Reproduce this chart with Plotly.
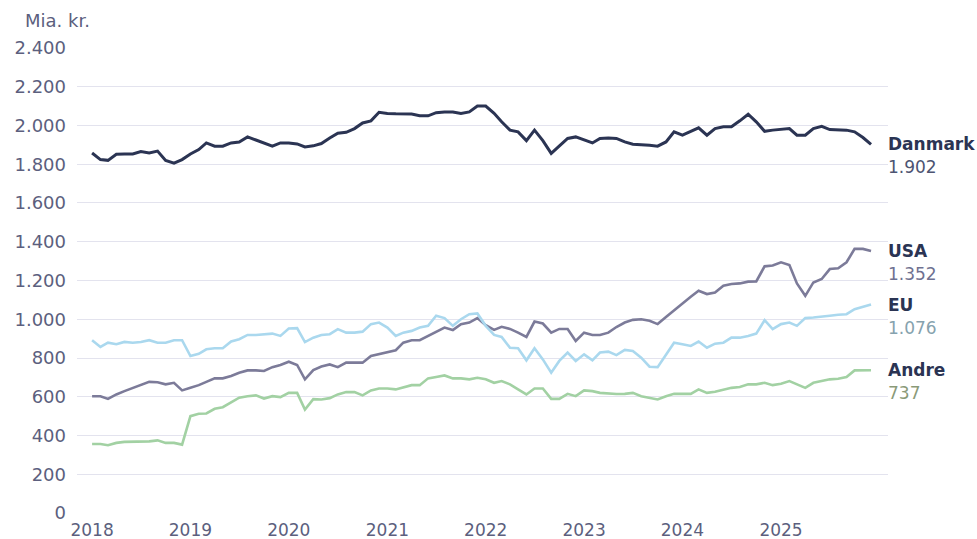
import pandas as pd
import plotly.graph_objects as go

months = pd.date_range("2018-01-01", "2025-12-01", freq="MS")

danmark = [1858, 1824, 1820, 1851, 1853, 1853, 1866, 1858, 1868, 1820, 1806, 1824,
           1853, 1876, 1910, 1893, 1893, 1910, 1915, 1941, 1925, 1910, 1893, 1910,
           1910, 1905, 1889, 1895, 1907, 1935, 1960, 1965, 1984, 2013, 2024, 2068,
           2062, 2060, 2058, 2059, 2050, 2050, 2066, 2070, 2070, 2062, 2070, 2100,
           2100, 2063, 2019, 1976, 1967, 1922, 1976, 1922, 1856, 1893, 1933, 1941,
           1927, 1910, 1933, 1936, 1933, 1915, 1903, 1902, 1898, 1893, 1915, 1967,
           1950, 1970, 1988, 1950, 1984, 1993, 1993, 2024, 2058, 2019, 1970, 1976,
           1979, 1984, 1950, 1950, 1984, 1996, 1979, 1979, 1976, 1967, 1938, 1902]

usa = [603, 603, 589, 612, 629, 646, 660, 677, 675, 664, 672, 633,
       646, 660, 677, 695, 695, 707, 724, 736, 736, 733, 753, 764,
       781, 764, 690, 738, 756, 767, 753, 776, 776, 776, 810, 819,
       828, 840, 879, 892, 892, 914, 931, 957, 944, 975, 983, 1006,
       969, 945, 961, 950, 931, 909, 988, 978, 931, 950, 950, 888,
       931, 919, 919, 931, 960, 983, 997, 1000, 992, 975, 1012, 1047,
       1081, 1116, 1147, 1130, 1138, 1173, 1182, 1185, 1194, 1195, 1273, 1277,
       1294, 1280, 1185, 1121, 1190, 1208, 1259, 1263, 1294, 1363, 1363, 1352]

eu = [892, 857, 879, 871, 883, 879, 883, 892, 879, 879, 892, 892,
      810, 822, 845, 850, 850, 885, 897, 919, 919, 922, 926, 914,
      952, 954, 882, 905, 919, 923, 949, 931, 931, 936, 975, 983,
      957, 914, 931, 940, 957, 966, 1018, 1006, 966, 1000, 1026, 1030,
      966, 919, 909, 853, 850, 788, 850, 793, 724, 785, 828, 785,
      819, 788, 828, 833, 815, 842, 836, 802, 755, 753, 819, 879,
      871, 862, 885, 853, 874, 879, 905, 905, 914, 926, 995, 949,
      975, 983, 966, 1006, 1009, 1012, 1018, 1023, 1026, 1052, 1064, 1076]

andre = [356, 356, 350, 362, 367, 367, 367, 370, 375, 362, 362, 353,
         500, 512, 514, 538, 546, 569, 595, 603, 607, 591, 603, 598,
         620, 620, 534, 588, 586, 593, 612, 624, 624, 607, 633, 643,
         643, 638, 650, 660, 660, 695, 702, 710, 695, 695, 690, 698,
         690, 672, 681, 664, 638, 612, 643, 643, 589, 589, 615, 603,
         633, 629, 620, 617, 614, 615, 620, 603, 595, 586, 603, 615,
         615, 615, 638, 620, 626, 638, 646, 650, 664, 664, 672, 660,
         667, 681, 664, 646, 672, 681, 690, 693, 702, 736, 736, 737]

names = ["Danmark", "USA", "EU", "Andre"]
series = [danmark, usa, eu, andre]
end_labels = ["1.902", "1.352", "1.076", "737"]
line_colors = ["#2b3453", "#7c7b99", "#aad8ee", "#a2d1a3"]
line_widths = [3, 2.6, 2.6, 2.6]
value_colors = ["#4d5472", "#6f7191", "#86a2ae", "#8a9a78"]

year_ticks = pd.date_range("2018-01-01", "2025-01-01", freq="YS")
year_labels = [str(d.year) for d in year_ticks]
y_ticks = list(range(0, 2401, 200))
y_tick_labels = ["0", "200", "400", "600", "800", "1.000", "1.200", "1.400",
                 "1.600", "1.800", "2.000", "2.200", "2.400"]

FONT = "DejaVu Sans"
fig = go.Figure()
for name, vals, col, w in zip(names, series, line_colors, line_widths):
    fig.add_trace(go.Scatter(x=months, y=vals, mode="lines", name=name,
                             line=dict(color=col, width=w), showlegend=False))

for name, vals, lab, vcol in zip(names, series, end_labels, value_colors):
    fig.add_annotation(x=1, xref="paper", y=vals[-1], yref="y", xanchor="left",
                       yanchor="middle", text="<b>" + name + "</b>", showarrow=False,
                       font=dict(family=FONT, size=17, color="#2b3453"), xshift=-2)
    fig.add_annotation(x=1, xref="paper", y=vals[-1], yref="y", xanchor="left",
                       yanchor="middle", text=lab, showarrow=False, yshift=-23,
                       font=dict(family=FONT, size=17, color=vcol), xshift=-2)

fig.add_annotation(x=0, xref="paper", y=1, yref="paper", xanchor="left", yanchor="middle",
                   text="Mia. kr.", showarrow=False, xshift=-54, yshift=27,
                   font=dict(family=FONT, size=18, color="#5c5f7e"))

fig.update_layout(
    width=977, height=539,
    margin=dict(l=77, r=89, t=47, b=25, autoexpand=False),
    plot_bgcolor="white", paper_bgcolor="white",
    font=dict(family=FONT, size=18, color="#5c5f7e"),
    xaxis=dict(range=["2017-11-06", "2026-02-02"], tickvals=year_ticks, ticktext=year_labels,
               showgrid=False, zeroline=False, showline=False, ticks="", automargin=False,
               ticklabelstandoff=4, tickfont=dict(size=17, color="#5c5f7e")),
    yaxis=dict(range=[-5, 2405], tickvals=y_ticks, ticktext=y_tick_labels,
               showgrid=True, gridcolor="#e3e3ee", gridwidth=1, zeroline=False,
               showline=False, ticks="", ticklabelstandoff=10, automargin=False,
               tickfont=dict(size=18, color="#5c5f7e")),
)

fig.write_html("out.html", config={"displayModeBar": False},
               post_script="document.body.style.margin='0';")
